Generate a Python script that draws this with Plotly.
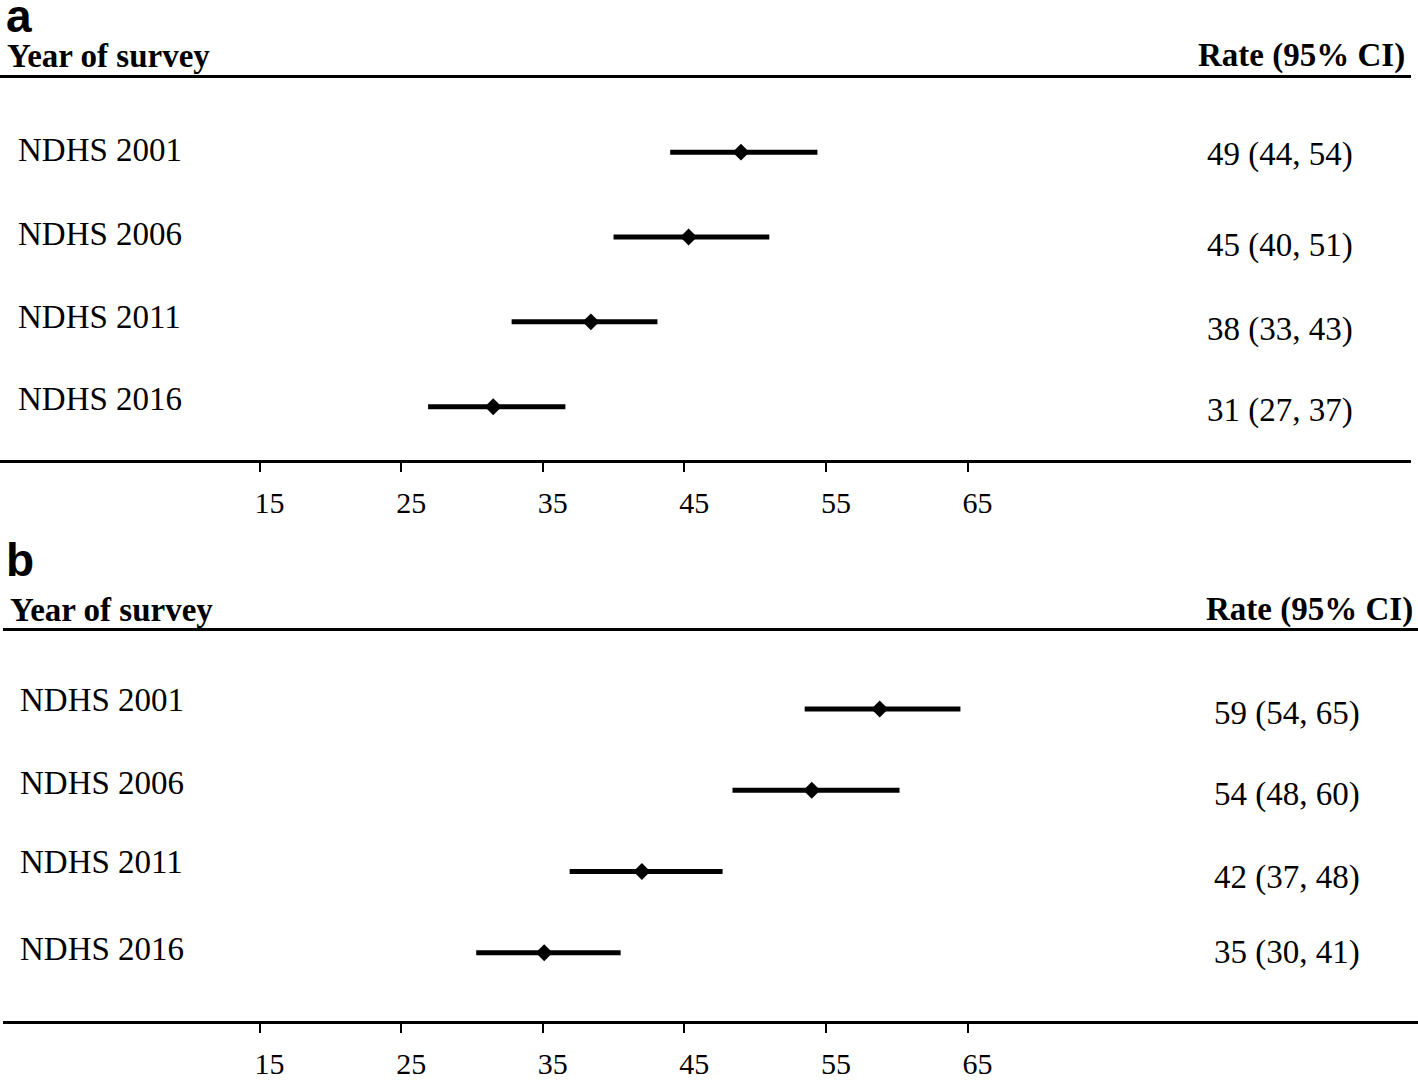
import plotly.graph_objects as go

# ---------------- data ----------------
surveys = ["NDHS 2001", "NDHS 2006", "NDHS 2011", "NDHS 2016"]

rate_a = [49.0, 45.3, 38.4, 31.5]
lo_a = [44.0, 40.0, 32.8, 26.9]
hi_a = [54.4, 51.0, 43.1, 36.6]
text_a = ["49 (44, 54)", "45 (40, 51)", "38 (33, 43)", "31 (27, 37)"]

rate_b = [58.8, 54.0, 42.0, 35.1]
lo_b = [53.5, 48.4, 36.9, 30.3]
hi_b = [64.5, 60.2, 47.7, 40.5]
text_b = ["59 (54, 65)", "54 (48, 60)", "42 (37, 48)", "35 (30, 41)"]

tick_vals = [15, 25, 35, 45, 55, 65]

# ---------------- layout constants ----------------
W, H = 1418, 1080
SERIF = "Liberation Serif"
SANS = "Liberation Sans"

def px_x(p):
    return p / W

def px_y(p):
    return 1 - p / H

# panel geometry (pixels)
panels = [
    dict(key="a", xd=(0, 1411), top=78, bottom=463, row0=153, row3=409,
         lab_x=16, rate_x=1280, head_l=5, head_r=1407, head_y=56, letter_y=16,
         lshift=[2, 3, 5, 8], rshift=[-2, -8, -8, -4],
         rate=rate_a, lo=lo_a, hi=hi_a, txt=text_a),
    dict(key="b", xd=(3, 1418), top=635, bottom=1027, row0=713, row3=958,
         lab_x=18, rate_x=1287, head_l=8, head_r=1415, head_y=613, letter_y=563,
         lshift=[9, 7, 9, 4], rshift=[-4, -4, -6, 0],
         rate=rate_b, lo=lo_b, hi=hi_b, txt=text_b),
]

TICK15_PX, TICK65_PX = 259.6, 967.5
scale = (TICK65_PX - TICK15_PX) / 50.0

fig = go.Figure()
annotations = []

for k, p in enumerate(panels):
    sfx = "" if k == 0 else str(k + 1)
    xa, ya = "x" + sfx, "y" + sfx
    rows = list(range(len(surveys)))

    fig.add_trace(go.Scatter(
        x=p["rate"], y=rows, xaxis=xa, yaxis=ya, mode="markers",
        marker=dict(symbol="diamond", size=13, color="black"),
        error_x=dict(type="data",
                     array=[h - r for h, r in zip(p["hi"], p["rate"])],
                     arrayminus=[r - l for r, l in zip(p["rate"], p["lo"])],
                     color="black", thickness=5, width=0),
        showlegend=False, hoverinfo="skip"))

    x0, x1 = p["xd"]
    left = 15 - (TICK15_PX - x0) / scale
    right = left + (x1 - x0) / scale
    unit = (p["row3"] - p["row0"]) / 3.0
    ytop = (p["top"] - p["row0"]) / unit
    ybot = (p["bottom"] - p["row0"]) / unit

    fig.layout["xaxis" + sfx] = dict(
        domain=[px_x(x0), px_x(x1)], anchor=ya, range=[left, right],
        showgrid=False, zeroline=False, showline=True, mirror=True,
        linecolor="black", linewidth=3,
        ticks="outside", ticklen=9, tickwidth=1.5, tickcolor="black",
        tickmode="array", tickvals=tick_vals,
        tickfont=dict(family=SERIF, size=30, color="black"),
        ticklabelshift=10, ticklabelstandoff=5)
    fig.layout["yaxis" + sfx] = dict(
        domain=[px_y(p["bottom"]), px_y(p["top"])], anchor=xa,
        range=[ybot, ytop], visible=False, showgrid=False, zeroline=False)

    # panel letter
    annotations.append(dict(
        text="<b>" + p["key"] + "</b>", xref="paper", yref="paper",
        x=px_x(4), y=px_y(p["letter_y"]), xanchor="left", yanchor="middle",
        showarrow=False, font=dict(family=SANS, size=46, color="black")))
    # headers
    annotations.append(dict(
        text="<b>Year of survey</b>", xref="paper", yref="paper",
        x=px_x(p["head_l"]), y=px_y(p["head_y"]), xanchor="left", yanchor="middle",
        showarrow=False, font=dict(family=SERIF, size=33, color="black")))
    annotations.append(dict(
        text="<b>Rate (95% CI)</b>", xref="paper", yref="paper",
        x=px_x(p["head_r"]), y=px_y(p["head_y"]), xanchor="right", yanchor="middle",
        showarrow=False, font=dict(family=SERIF, size=33, color="black")))
    # row labels and rate texts
    for i, (lab, t) in enumerate(zip(surveys, p["txt"])):
        annotations.append(dict(
            text=lab, xref="paper", yref=ya, x=px_x(p["lab_x"]), y=i,
            xanchor="left", yanchor="middle", yshift=p["lshift"][i],
            showarrow=False, font=dict(family=SERIF, size=33, color="black")))
        annotations.append(dict(
            text=t, xref="paper", yref=ya, x=px_x(p["rate_x"]), y=i,
            xanchor="center", yanchor="middle", yshift=p["rshift"][i],
            showarrow=False, font=dict(family=SERIF, size=33, color="black")))

fig.update_layout(
    width=W, height=H, margin=dict(l=0, r=0, t=0, b=0),
    paper_bgcolor="white", plot_bgcolor="white",
    annotations=annotations)

fig.write_html(
    "out.html",
    config={"displayModeBar": False},
    post_script="document.body.style.margin='0';document.body.style.padding='0';"
                "document.body.style.overflow='hidden';")
